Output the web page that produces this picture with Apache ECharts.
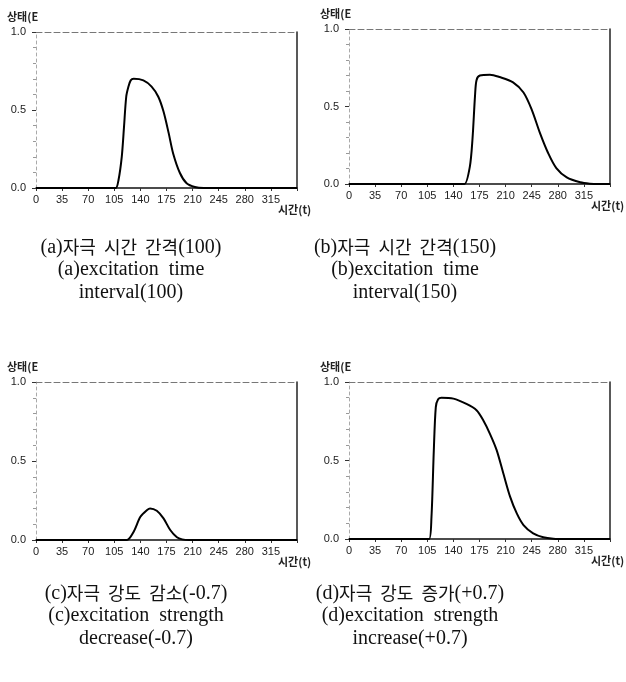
<!DOCTYPE html>
<html>
<head>
<meta charset="utf-8">
<script src="https://cdn.jsdelivr.net/npm/echarts@6/dist/echarts.min.js"></script>
<style>
  html, body { margin: 0; padding: 0; background: #fff; }
  #main { width: 626px; height: 682px; }
</style>
</head>
<body>
<div id="main"></div>
<script>
// 시간 축 눈금 (0 ~ 350, 35 간격)
var timeTicks = [0, 35, 70, 105, 140, 175, 210, 245, 280, 315];

// (a) 자극 시간 간격(100)
var timeA  = [0, 100, 107, 110.6, 115, 118, 121, 124, 127, 131, 144, 155, 164, 171, 178, 184, 193, 202, 213, 225, 350];
var stateA = [0, 0, 0, 0.05, 0.2, 0.39, 0.585, 0.65, 0.69, 0.70, 0.69, 0.65, 0.585, 0.49, 0.35, 0.22, 0.096, 0.03, 0.006, 0, 0];

// (b) 자극 시간 간격(150)
var timeB  = [0, 150, 155, 162, 165.6, 169, 171, 175.5, 189, 202, 220, 234, 245, 256, 267, 278, 292, 310, 323, 335, 350];
var stateB = [0, 0, 0, 0.11, 0.29, 0.57, 0.67, 0.70, 0.705, 0.69, 0.656, 0.59, 0.48, 0.33, 0.2, 0.103, 0.043, 0.011, 0.002, 0, 0];

// (c) 자극 강도 감소(-0.7)
var timeC  = [0, 115, 122, 131, 140, 149, 153, 162, 171, 180, 189, 196, 205, 350];
var stateC = [0, 0, 0, 0.053, 0.147, 0.19, 0.2, 0.185, 0.137, 0.063, 0.017, 0.004, 0, 0];

// (d) 자극 강도 증가(+0.7)
var timeD  = [0, 100, 107.5, 110.6, 113.7, 116.4, 119.5, 124, 140, 157.5, 171, 180, 189, 198, 207, 216, 225, 234, 247, 260.5, 274, 290, 350];
var stateD = [0, 0, 0, 0.14, 0.56, 0.84, 0.89, 0.90, 0.894, 0.86, 0.82, 0.756, 0.67, 0.566, 0.417, 0.27, 0.163, 0.089, 0.036, 0.011, 0.002, 0, 0];

// 캡션 (라벨, 한글, 값, 영문 2줄)
var capLabel = ['(a)', '(b)', '(c)', '(d)'];
var capKor   = ['자극  시간  간격', '자극  시간  간격', '자극  강도  감소', '자극  강도  증가'];
var capValue = ['(100)', '(150)', '(-0.7)', '(+0.7)'];
var capEng1  = ['excitation  time', 'excitation  time', 'excitation  strength', 'excitation  strength'];
var capEng2  = ['interval(100)', 'interval(150)', 'decrease(-0.7)', 'increase(+0.7)'];
var yName = '상태(E';
var xName = '시간(t)';

var panels = [
    { x: timeA, y: stateA },
    { x: timeB, y: stateB },
    { x: timeC, y: stateC },
    { x: timeD, y: stateD }
];

// 그리드 위치
var grids = [
    { left: 36,  top: 32,  width: 261, height: 156 },
    { left: 349, top: 29,  width: 261, height: 155 },
    { left: 36,  top: 382, width: 261, height: 158 },
    { left: 349, top: 382, width: 261, height: 157 }
];
var capPos = [[126, 231], [400, 231], [131, 577], [405, 577]];

var labelFont = { fontFamily: 'Liberation Sans, Arial, sans-serif', fontSize: 11, color: '#222' };
var serif = 'Liberation Serif, Noto Sans CJK KR, serif';

var xAxes = [], yAxes = [], series = [], titles = [], graphics = [];
panels.forEach(function (p, i) {
    var g = grids[i];
    xAxes.push({
        gridIndex: i, type: 'value', min: 0, max: 350, interval: 35,
        axisLine: { onZero: false, lineStyle: { color: '#111', width: 1.5 } },
        axisTick: { length: 3, lineStyle: { color: '#333' } },
        axisLabel: Object.assign({
            margin: 6,
            formatter: function (v) { return timeTicks.indexOf(v) >= 0 ? String(v) : ''; }
        }, labelFont),
        splitLine: { show: false }
    });
    xAxes.push({
        gridIndex: i, type: 'value', min: 0, max: 350, position: 'top',
        axisLine: { show: true, onZero: false, lineStyle: { color: '#777', type: [6, 3] } },
        axisTick: { show: false }, axisLabel: { show: false }, splitLine: { show: false }
    });
    yAxes.push({
        gridIndex: i, type: 'value', min: 0, max: 1, interval: 0.5,
        axisLine: { show: true, onZero: false, lineStyle: { color: '#aaa', type: [3, 3] } },
        axisTick: { show: true, length: 4, lineStyle: { color: '#333' } },
        minorTick: { show: true, splitNumber: 5, length: 3, lineStyle: { color: '#999' } },
        axisLabel: Object.assign({
            margin: 10,
            formatter: function (v) { return v.toFixed(1); }
        }, labelFont),
        splitLine: { show: false }
    });
    yAxes.push({
        gridIndex: i, type: 'value', min: 0, max: 1, position: 'right',
        axisLine: { show: true, onZero: false, lineStyle: { color: '#222', width: 1.5 } },
        axisTick: { show: false }, axisLabel: { show: false }, splitLine: { show: false }
    });
    series.push({
        type: 'line',
        xAxisIndex: i * 2,
        yAxisIndex: i * 2,
        data: p.x.map(function (t, k) { return [t, p.y[k]]; }),
        showSymbol: false,
        smooth: 0.3,
        lineStyle: { color: '#000', width: 2 }
    });
    titles.push({
        text: '{l|' + capLabel[i] + '}{k|' + capKor[i] + '}{l|' + capValue[i] + '}\n' +
              '{l|' + capLabel[i] + capEng1[i] + '}\n{l|' + capEng2[i] + '}',
        left: capPos[i][0], top: capPos[i][1], textAlign: 'center',
        textStyle: {
            fontFamily: serif, fontSize: 20, fontWeight: 'normal', color: '#111', lineHeight: 22.5,
            rich: {
                l: { fontFamily: serif, fontSize: 20, color: '#111', lineHeight: 22.5 },
                k: { fontFamily: 'Noto Sans CJK KR, sans-serif', fontSize: 18, color: '#111', lineHeight: 22.5 }
            }
        }
    });
    // 축 이름
    graphics.push({
        type: 'text', left: g.left - 29, top: g.top - 21,
        style: { text: yName, font: 'bold 11px Noto Sans CJK KR, sans-serif', fill: '#222' }
    });
    graphics.push({
        type: 'text', left: g.left + 242, top: g.top + g.height + 16,
        style: { text: xName, font: 'bold 11px Noto Sans CJK KR, sans-serif', fill: '#222' }
    });
});

var myChart = echarts.init(document.getElementById('main'));
myChart.setOption({
    backgroundColor: '#fff',
    animation: false,
    title: titles,
    grid: grids,
    xAxis: xAxes,
    yAxis: yAxes,
    series: series,
    graphic: graphics
});
</script>
</body>
</html>
